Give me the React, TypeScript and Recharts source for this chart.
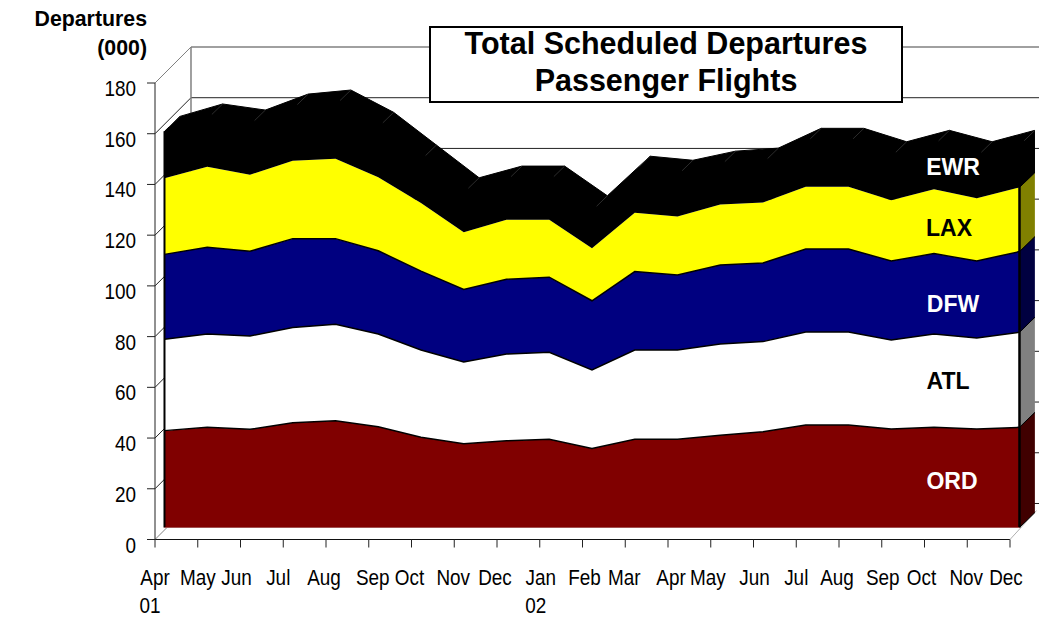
import {
  Area,
  ComposedChart,
  Line,
  ReferenceLine,
  XAxis,
  YAxis,
} from "recharts";

// months along the axis, year goes on a second line
const MONTHS = ["Apr", "May", "Jun", "Jul", "Aug", "Sep", "Oct", "Nov", "Dec", "Jan", "Feb", "Mar", "Apr", "May", "Jun", "Jul", "Aug", "Sep", "Oct", "Nov", "Dec"];
const YEARS: Record<number, string> = { 0: "01", 9: "02" };
const Y_TICKS = [0, 20, 40, 60, 80, 100, 120, 140, 160, 180];

const ORD = [38.2, 39.5, 38.7, 41.3, 42.1, 39.7, 35.6, 33.0, 34.2, 34.8, 31.2, 34.8, 34.8, 36.4, 37.8, 40.4, 40.4, 38.8, 39.5, 38.8, 39.5];
const ATL = [36.0, 36.8, 36.8, 37.6, 38.0, 36.6, 34.4, 32.3, 34.2, 34.3, 30.9, 35.2, 35.2, 36.0, 35.5, 36.7, 36.7, 35.1, 36.8, 35.9, 37.5];
const DFW = [33.5, 34.2, 33.4, 35.0, 33.8, 32.8, 31.1, 28.6, 29.5, 29.6, 27.3, 30.9, 29.6, 31.1, 31.0, 32.7, 32.7, 31.2, 31.7, 30.4, 31.8];
const LAX = [30.0, 31.7, 30.2, 30.7, 31.5, 29.0, 26.9, 22.5, 23.4, 22.6, 20.7, 23.2, 23.0, 23.9, 23.9, 24.6, 24.6, 23.9, 25.4, 24.7, 25.3];
const EWR = [18.5, 18.9, 19.6, 20.4, 21.2, 19.7, 16.9, 15.6, 15.3, 15.3, 14.8, 16.4, 16.3, 15.1, 15.5, 17.1, 17.1, 17.2, 17.3, 16.4, 16.6];

const BANDS = [
  { name: "ORD", values: ORD, fill: "#800000", side: "#400000" },
  { name: "ATL", values: ATL, fill: "#ffffff", side: "#808080" },
  { name: "DFW", values: DFW, fill: "#000080", side: "#000040" },
  { name: "LAX", values: LAX, fill: "#ffff00", side: "#808000" },
  { name: "EWR", values: EWR, fill: "#000000", side: "#000000" },
];

// fake 3D: series plane sits a bit in front of the back wall
const W = 1039;
const H = 618;
const X_MAX = 20.6; // room for the depth faces, recharts widens the domain otherwise
const MARGIN = { top: 83, right: 3.35, bottom: 78.5, left: 155 };
const PLANE_X = 0.222; // category units
const PLANE_LIFT = 4.73; // value units
const SIDE_X = 0.36;
const SIDE_LIFT = 5.9;
const WALL_X = 0.842;
const WALL_LIFT = 14.2;
const FONT = "'Liberation Sans', Arial, sans-serif";

const LAST = MONTHS.length - 1;
const cumulative = BANDS.map((_, b) =>
  MONTHS.map((__, i) => BANDS.slice(0, b + 1).reduce((sum, s) => sum + s.values[i], 0)),
);

const frontRows = MONTHS.map((_, i) => {
  const row: Record<string, number | number[]> = { x: i + PLANE_X };
  BANDS.forEach((band, b) => {
    const low = b === 0 ? 0 : cumulative[b - 1][i];
    row[band.name] = [low + PLANE_LIFT, cumulative[b][i] + PLANE_LIFT];
    row[band.name + "Top"] = cumulative[b][i] + PLANE_LIFT;
  });
  return row;
});

// back edge of the top surface makes the black silhouette
const backRows = [
  {
    x: PLANE_X,
    band: [cumulative[4][0] + PLANE_LIFT, cumulative[4][0] + PLANE_LIFT],
  },
  ...MONTHS.map((_, i) => ({
    x: i + PLANE_X + SIDE_X,
    band: [cumulative[3][i] + PLANE_LIFT + SIDE_LIFT, cumulative[4][i] + PLANE_LIFT + SIDE_LIFT],
  })),
];

const sideRows = BANDS.map((_, b) => {
  const low = (b === 0 ? 0 : cumulative[b - 1][LAST]) + PLANE_LIFT;
  const high = cumulative[b][LAST] + PLANE_LIFT;
  return [
    { x: LAST + PLANE_X, band: [low, high] },
    { x: LAST + PLANE_X + SIDE_X, band: [low + SIDE_LIFT, high + SIDE_LIFT] },
  ];
});

const LABEL_NUDGE = [0, 0, -4, -5, -2, 4, -2, -1, -2, 1, 2, -1, 3, -3, 1, 0, -2, 1, -3, -1, -4];

function MonthTick({ x, y, payload }: any) {
  const i = payload.value as number;
  const cx = x + LABEL_NUDGE[i];
  return (
    <g fontFamily={FONT} fontSize={22} fill="#000">
      <text transform={`translate(${cx},${y + 35}) scale(0.86,1)`} textAnchor="middle">
        {MONTHS[i]}
      </text>
      {YEARS[i] && (
        <text transform={`translate(${cx - 5},${y + 63}) scale(0.86,1)`} textAnchor="middle">
          {YEARS[i]}
        </text>
      )}
    </g>
  );
}

function ValueTick({ x, y, payload }: any) {
  return (
    <text
      transform={`translate(${x - 9},${y + 13}) scale(0.86,1)`}
      textAnchor="end"
      fontFamily={FONT}
      fontSize={22}
      fill="#000"
    >
      {payload.value}
    </text>
  );
}

function seg(x1: number, y1: number, x2: number, y2: number, stroke: string, strokeWidth = 1, key?: string) {
  return (
    <ReferenceLine
      key={key}
      segment={[{ x: x1, y: y1 }, { x: x2, y: y2 }]}
      stroke={stroke}
      strokeWidth={strokeWidth}
      ifOverflow="visible"
    />
  );
}

const LABELS = [
  { text: "EWR", x: 953, y: 167, color: "#fff" },
  { text: "LAX", x: 949, y: 228, color: "#000" },
  { text: "DFW", x: 953, y: 304, color: "#fff" },
  { text: "ATL", x: 948, y: 381, color: "#000" },
  { text: "ORD", x: 952, y: 481, color: "#fff" },
];

const layer = { position: "absolute", left: 0, top: 0 } as const;

export default function App() {
  return (
    <div style={{ ...layer, width: W, height: H, overflow: "hidden", background: "#fff", fontFamily: FONT }}>
      {/* walls and axes */}
      <div style={layer}>
        <ComposedChart width={W} height={H} data={frontRows} margin={{ ...MARGIN, left: 100, bottom: 0 }}>
          <XAxis
            type="number"
            dataKey="x"
            domain={[0, X_MAX]}
            ticks={MONTHS.map((_, i) => i)}
            interval={0}
            tick={<MonthTick />}
            tickSize={8}
            axisLine={false}
            stroke="#222"
            height={MARGIN.bottom}
          />
          <YAxis
            type="number"
            width={55}
            domain={[0, 180]}
            ticks={Y_TICKS}
            interval={0}
            tick={<ValueTick />}
            tickSize={8}
            stroke="#222"
          />
          <Line dataKey="ORDTop" stroke="none" dot={false} legendType="none" isAnimationActive={false} />
          {seg(0, 0, LAST, 0, "#111", 1.2, "xaxis")}
          {Y_TICKS.map((t) => seg(0, t, WALL_X, t + WALL_LIFT, t === 180 || t === 0 ? "#808080" : "#222", 1, `d${t}`))}
          {Y_TICKS.map((t) => seg(WALL_X, t + WALL_LIFT, 21, t + WALL_LIFT, t === 180 ? "#808080" : "#222", t === 180 ? 1.5 : 1, `g${t}`))}
          {seg(WALL_X, WALL_LIFT, WALL_X, 180 + WALL_LIFT, "#808080", 1.5, "wall")}
          {seg(LAST, 0, LAST + 0.62, 11.4, "#b0b0b0", 1, "floor")}
        </ComposedChart>
      </div>

      {/* series */}
      <div style={layer}>
        <ComposedChart width={W} height={H} data={frontRows} margin={MARGIN}>
          <XAxis type="number" dataKey="x" domain={[0, X_MAX]} hide />
          <YAxis type="number" domain={[0, 180]} hide />
          <Area data={backRows} dataKey="band" type="linear" fill="#000" fillOpacity={1} stroke="#000" isAnimationActive={false} />
          {BANDS.map((band) => (
            <Area
              key={band.name}
              dataKey={band.name}
              type="linear"
              fill={band.fill}
              fillOpacity={1}
              stroke="none"
              isAnimationActive={false}
            />
          ))}
          {BANDS.map((band, b) => (
            <Area
              key={band.name + "side"}
              data={sideRows[b]}
              dataKey="band"
              type="linear"
              fill={band.side}
              fillOpacity={1}
              stroke="#000"
              strokeWidth={1}
              isAnimationActive={false}
            />
          ))}
          {["ORDTop", "ATLTop", "DFWTop"].map((key) => (
            <Line key={key} dataKey={key} type="linear" stroke="#000" strokeWidth={1.5} dot={false} isAnimationActive={false} />
          ))}
          {seg(PLANE_X, PLANE_LIFT, PLANE_X, cumulative[4][0] + PLANE_LIFT, "#000", 2, "left")}
          {seg(LAST + PLANE_X, PLANE_LIFT, LAST + PLANE_X, cumulative[4][LAST] + PLANE_LIFT, "#000", 2.5, "right")}
          {seg(PLANE_X, PLANE_LIFT, LAST + PLANE_X, PLANE_LIFT, "#a05050", 1, "base")}
          {MONTHS.map((_, i) =>
            seg(
              i + PLANE_X + SIDE_X * 0.3,
              cumulative[4][i] + PLANE_LIFT + SIDE_LIFT * 0.3,
              i + PLANE_X + SIDE_X,
              cumulative[4][i] + PLANE_LIFT + SIDE_LIFT,
              "#2c2c2c",
              1,
              `e${i}`,
            ),
          )}
        </ComposedChart>
      </div>

      <div
        style={{
          ...layer,
          left: 429,
          top: 26,
          width: 470,
          height: 73,
          border: "2.5px solid #000",
          background: "#fff",
          textAlign: "center",
          fontWeight: 700,
          fontSize: 30.5,
          lineHeight: "37px",
          marginTop: 0,
        }}
      >
        <div style={{ marginTop: -3 }}>Total Scheduled Departures</div>
        <div>Passenger Flights</div>
      </div>

      <div style={{ ...layer, left: 20, top: 5, width: 127, textAlign: "right", fontWeight: 700, fontSize: 21.3, lineHeight: "29px" }}>
        Departures
        <br />
        (000)
      </div>

      {LABELS.map((l) => (
        <div
          key={l.text}
          style={{
            ...layer,
            left: l.x - 40,
            top: l.y - 14,
            width: 80,
            textAlign: "center",
            fontWeight: 700,
            fontSize: 23,
            lineHeight: "28px",
            color: l.color,
          }}
        >
          {l.text}
        </div>
      ))}
    </div>
  );
}
